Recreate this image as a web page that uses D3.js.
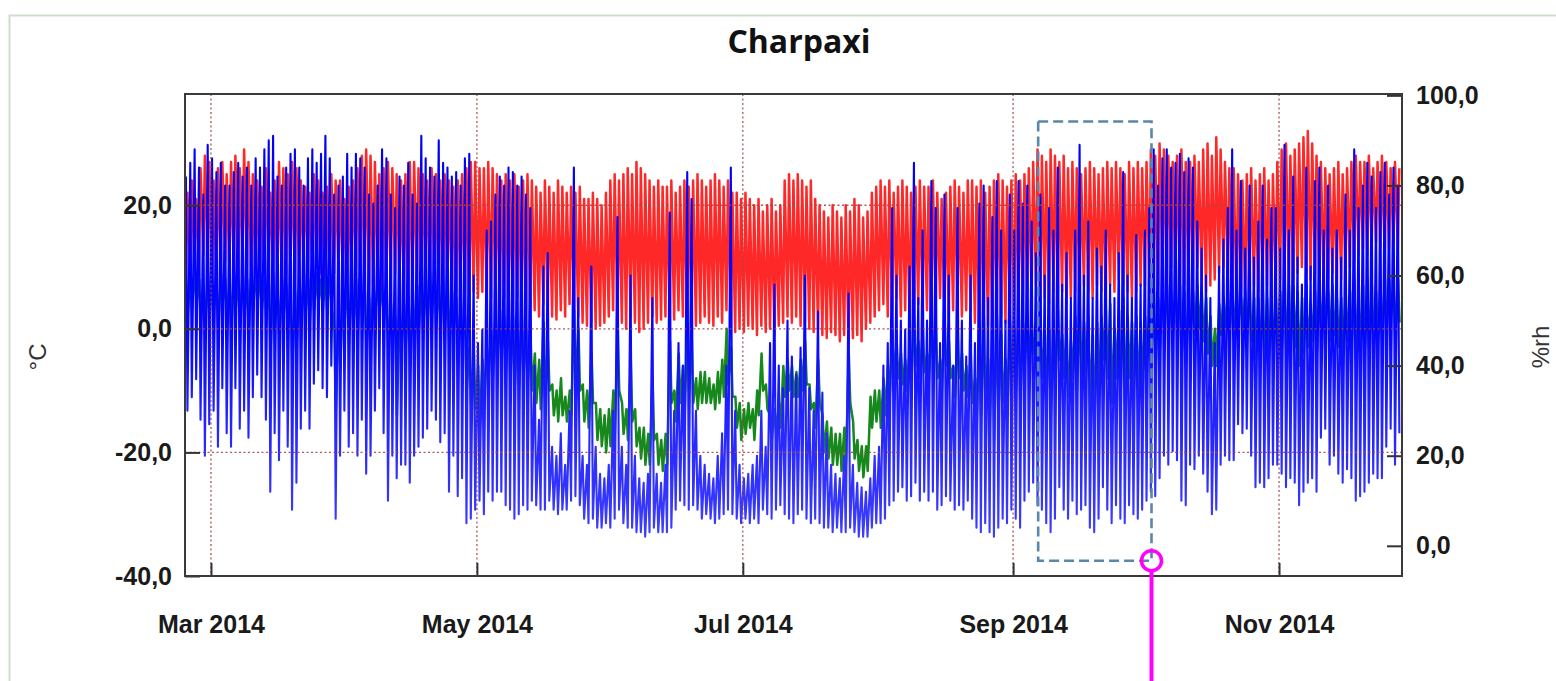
<!DOCTYPE html>
<html><head><meta charset="utf-8">
<script src="https://cdn.jsdelivr.net/npm/d3@7"></script>
<style>body{margin:0;background:#fff;} svg{display:block;}</style>
</head><body>
<svg id="chart" width="1556" height="681"></svg>
<script>
// ---- data: one value per day, first day = 23 Feb 2014 ----
const firstDay = Date.UTC(2014, 1, 23);
const xTicks = [Date.UTC(2014,2,1), Date.UTC(2014,4,1), Date.UTC(2014,6,1), Date.UTC(2014,8,1), Date.UTC(2014,10,1)];
const leftTicks = [-40, -20, 0, 20];
const rightTicks = [0, 20, 40, 60, 80, 100];
const title = "Charpaxi";

// relative humidity (%rh): daily maximum and minimum
const rhMax = [
 82,85,88,84,78,89,86,83,85,80, 80,83,85,82,84,80,86,84,88,90, 91,82,80,84,87,88,84,80,86,88,
 85,87,91,86,78,80,82,87,84,87, 86,84,78,76,80,88,86,78,75,82, 80,85,78,76,91,86,84,82,90,85,
 84,82,83,80,86,87,60,45,48,70, 72,78,82,80,84,83,80,82,78,75, 40,28,62,65,22,20,25,18,30,84,
 55,20,18,62,22,16,15,18,30,73, 22,18,60,20,15,14,16,55,16,14, 18,74,30,45,40,83,77,30,20,18,
 16,15,20,25,40,84,30,18,15,16, 18,20,30,22,45,58,40,35,50,42, 38,44,60,35,30,52,34,25,18,16,
 15,20,56,18,14,13,12,15,20,22, 40,45,75,60,50,48,62,85,55,70, 50,81,75,45,78,60,40,75,50,42,
 60,45,76,80,55,73,81,70,50,78, 70,81,76,80,72,65,78,60,75,70, 84,58,65,55,70,89,60,72,55,66,
 62,70,58,55,65,83,60,55,69,58, 70,75,88,80,86,88,84,85,87,83, 86,84,72,66,60,55,45,62,68,75,
 88,70,81,66,80,64,72,80,68,75, 75,66,89,70,82,64,58,84,62,81, 84,70,80,66,70,64,78,70,88,75,
 80,85,82,75,83,85,78,84,80];
const rhMin = [
 30,33,37,28,20,27,30,22,35,25, 22,35,26,30,24,33,38,33,28,12, 25,19,30,22,8,14,26,30,26,36,
 39,35,33,40,6,20,30,22,25,20, 28,16,20,30,35,25,10,20,15,18, 18,14,20,22,24,26,30,28,23,25,
 12,20,11,15,5,6,8,10,7,12, 10,12,12,9,8,6,7,9,8,10, 9,8,8,10,8,7,8,8,10,11,
 9,6,5,6,4,4,5,4,6,8, 5,4,4,3,3,2,3,4,3,3, 3,4,8,10,9,8,9,8,6,7,
 6,5,6,7,8,7,6,5,6,5, 6,5,8,7,6,8,9,7,6,5, 7,8,6,5,6,5,4,4,3,4,
 3,3,4,3,2,2,2,4,5,5, 6,9,10,12,13,10,11,14,10,12, 10,12,8,9,11,10,8,9,8,10,
 6,4,3,5,3,2,4,6,5,8, 6,4,10,12,14,9,8,5,3,6, 13,8,6,10,7,8,9,4,3,6,
 13,8,5,9,6,5,9,7,6,8, 10,12,11,15,20,18,21,19,10,9, 18,17,20,16,12,7,8,18,20,19,
 19,27,25,26,20,13,14,13,15,18, 18,16,13,15,14,9,12,14,15,12, 24,26,18,20,16,14,17,15,10,11,
 12,14,16,15,15,22,26,18,25];

// air temperature (°C): daily maximum and minimum
const tMax = [
 22,24,21,26,28,27,24,26,27,25, 27,28,26,29,27,25,24,23,26,22, 24,27,26,25,27,26,24,23,22,25,
 24,22,23,25,24,24,21,23,24,26, 28,29,28,27,25,26,27,26,25,24, 25,27,27,26,25,24,26,25,24,25,
 24,23,24,25,26,27,27,26,26,27, 26,25,24,25,24,25,23,24,25,24, 23,22,24,23,22,24,23,22,23,22,
 23,21,21,22,21,20,22,24,25,24, 25,26,25,27,26,25,24,23,24,23, 23,24,22,23,24,23,24,25,24,23,
 24,25,24,23,24,22,22,21,22,21, 20,21,19,20,21,19,20,24,25,24, 25,24,23,24,21,20,19,18,20,19,
 18,20,19,21,20,18,19,22,23,24, 23,24,22,23,24,23,22,23,24,23, 23,24,22,21,22,23,24,23,22,24,
 24,23,24,22,23,24,25,24,23,24, 25,24,25,26,27,29,28,27,29,28, 27,28,26,27,26,25,26,27,26,25,
 26,27,26,27,26,25,27,26,27,26, 27,29,28,30,29,28,27,28,29,27, 27,28,27,29,30,28,31,29,27,26,
 26,25,24,25,26,24,25,26,24,25, 27,29,30,28,29,30,31,32,30,28, 27,26,25,26,27,25,26,27,28,27,
 27,28,26,27,28,27,26,27,26];
const tMin = [
 8,9,10,11,12,10,9,8,10,11, 9,10,8,11,10,9,8,10,9,11, 10,9,8,9,10,8,9,10,11,10,
 10,9,8,9,9,10,8,7,9,10, 9,8,7,6,8,7,7,8,9,8, 6,5,6,8,9,8,9,8,7,8,
 8,7,6,5,6,5,6,5,6,5, 5,6,4,5,3,4,5,4,3,4, 3,2,4,3,2,1.5,3,2,4,3,
 2,1,0.5,1,0,0.5,1,2,3,2, 1,0,2,1,-0.5,0,1,2,1,1.5, 2,1,1.5,3,2,1,2,0.5,1,2,
 1,0.5,2,1,3,0,-0.5,0,-0.5,0.5, 0,-1,0.5,-0.5,0,-1,0.5,1,2,1, 2,0.5,1,0,-0.5,0,-1,-1.5,-0.5,-1,
 -2,-1,-2.4,-1.5,-1,-2,0,1,2,3, 4,2,3,5,2,3,1.6,2,4,3, 3,2,4,5,3,2,3,4,2,3,
 3,1,0,2,0.5,1,3,2,1,4, 3,4,5,6,5,7,6,5,4,6, 5,6,4,5,6,5.4,7,6,5,7,
 6,5,7,6,8,7,6,5,6,7, 7,8,6,7,9,8,10,9,8,7, 8,9,10,8,6,7,8,9,10,9,
 6,5,6,5,8,7,6,8,7,6, 7,8,9,7,8,9,10,9,8,9, 8,7,8,9,7,8,9,10,11,12,
 13,12,13,14,13,12,13,14,13];

// dew point (°C): daily maximum and minimum
const dpMax = [
 8,9,10,8,7,9,8,7,9,8, 8,9,8,9,8,9,10,9,8,7, 9,6,8,7,5,6,8,9,8,9,
 9,8,9,9,0,3,6,7,8,8, 9,6,5,7,8,7,6,4,2,3, 4,5,6,7,8,8,9,8,7,8,
 7,6,5,4,2,-3,-4,-6,-5,-3, 0,2,3,2,3,2,1,2,0,-1, -4,-5,1,-2,-9,-10,-8,-11,-10,3,
 0,-9,-10,-4,-12,-13,-14,-13,-10,0, -12,-13,-5,-13,-16,-16,-17,-8,-17,-18, -17,-2,-10,-4,-6,1,-2,-8,-7,-7,
 -8,-9,-7,-5,0,-3,-11,-12,-13,-12, -13,-10,-4,-9,-14,-13,-12,-6,-5,-6, -7,-5,-2,-9,-12,-5,-14,-15,-16,-17,
 -17,-16,-4,-15,-18,-19,-19,-11,-10,-10, -8,-6,0,-2,-4,-5,-3,2,-2,0, -4,2,0,-5,1,-2,-6,0,-4,-6,
 -4,-8,1,2,-5,0,2,-1,-5,1, 0,2,1,2,1,0,2,-1,0,1, 3,-1,0,-2,2,4,1,2,-1,1,
 2,3,4,0,3,5,2,1,2,1, 2,3,6,5,6,7,6,6,7,6, 6,6,7,6,5,2,0,4,5,6,
 7,6,5,6,6,5,5,6,5,5, 5,6,8,7,7,6,5,7,4,6, 7,6,6,7,5,5,6,6,8,7,
 7,8,7,6,7,8,8,7,8];
const dpMin = [
 2,3,4,1,0,2,3,0,4,1, 0,3,1,2,0,3,4,3,2,-4, 1,-1,2,0,-6,-3,1,2,1,3,
 4,3,3,4,-13,-6,1,-1,0,-1, 2,-3,-2,2,3,1,-3,-1,-14,-4, -3,-4,-2,-1,0,1,2,1,0,1,
 -2,0,-4,-2,-10,-12,-13,-16,-12,-8, -8,-6,-5,-7,-8,-10,-9,-8,-9,-10, -12,-13,-11,-10,-14,-15,-14,-15,-14,-9,
 -10,-15,-16,-12,-18,-19,-20,-19,-17,-10, -17,-18,-15,-19,-21,-22,-22,-18,-22,-23, -22,-12,-15,-12,-14,-10,-12,-13,-12,-12,
 -12,-13,-12,-11,-9,-11,-16,-18,-17,-16, -18,-14,-10,-13,-18,-17,-16,-11,-10,-11, -11,-10,-9,-13,-16,-12,-20,-21,-22,-22,
 -23,-22,-12,-21,-23,-24,-23,-16,-15,-16, -14,-12,-8,-8,-9,-10,-9,-6,-8,-7, -9,-5,-8,-10,-6,-8,-11,-8,-10,-11,
 -12,-16,-14,-12,-15,-18,-13,-12,-14,-10, -10,-12,-6,-5,-4,-7,-8,-11,-14,-10, -5,-8,-11,-8,-10,-8,-7,-12,-15,-11,
 -5,-8,-12,-8,-11,-12,-8,-10,-11,-9, -6,-5,-6,-3,0,-1,1,0,-5,-6, -1,-1,0,-2,-4,-6,-6,-1,0,-1,
 -1,1,0,0,-2,-5,-5,-5,-4,-3, -3,-3,-4,-3,-3,-6,-4,-3,-2,-4, 0,1,-2,-1,-3,-4,-2,-3,-5,-4,
 -4,-3,-2,-2,-2,0,2,-1,1];

// highlighted period (annotation box), in data units
const boxDates = [Date.UTC(2014,8,6,18), Date.UTC(2014,9,2,18)];
const boxRh = [94.2, -3.3];

// ---- chart ----
const svg = d3.select("#chart");
const W = 1556, H = 681;
const plot = {l: 185, r: 1402, t: 94, b: 576};

const x = d3.scaleUtc().domain([Date.UTC(2014,1,23,1), Date.UTC(2014,10,29,5)]).range([plot.l, plot.r]);
const yL = d3.scaleLinear().domain([-40, 38]).range([plot.b, plot.t]);
const yR = d3.scaleLinear().domain([-6.7, 100.3]).range([plot.b, plot.t]);

const DAY = 86400000;
function zig(a, b, fa, fb) {
  const pts = [];
  for (let i = 0; i < a.length; i++) {
    pts.push({t: new Date(firstDay + (i + fa) * DAY), v: a[i]});
    pts.push({t: new Date(firstDay + (i + fb) * DAY), v: b[i]});
  }
  return pts;
}
const tSeries = zig(tMin, tMax, 0.25, 0.6);
const dpSeries = zig(dpMax, dpMin, 0.3, 0.65);
const rhSeries = zig(rhMax, rhMin, 0.25, 0.6);

// outer frame
svg.append("rect").attr("x", 9.5).attr("y", 15.5).attr("width", 1600).attr("height", 720)
  .attr("fill", "none").attr("stroke", "#cfddcc").attr("stroke-width", 2);

// title
svg.append("text").attr("x", 799).attr("y", 53).attr("text-anchor", "middle")
  .attr("font-family", "'Open Sans', 'Noto Sans', sans-serif").attr("font-weight", 700)
  .attr("font-size", 32).attr("fill", "#111").text(title);

const defs = svg.append("defs");
defs.append("clipPath").attr("id", "clip").append("rect")
  .attr("x", plot.l).attr("y", plot.t).attr("width", plot.r - plot.l).attr("height", plot.b - plot.t);
const grad = defs.append("linearGradient").attr("id", "blueGrad")
  .attr("gradientUnits", "userSpaceOnUse").attr("x1", 0).attr("y1", plot.t).attr("x2", 0).attr("y2", plot.b);
[[0, "#0000f6"], [0.49, "#0505ff"], [0.68, "#2424ff"], [0.94, "#4040ff"], [1, "#4444ff"]]
  .forEach(([o, c]) => grad.append("stop").attr("offset", o).attr("stop-color", c));

const g = svg.append("g").attr("clip-path", "url(#clip)");
const lineL = d3.line().x(d => x(d.t)).y(d => yL(d.v));
const lineR = d3.line().x(d => x(d.t)).y(d => yR(d.v));

g.append("path").datum(tSeries).attr("d", lineL).attr("fill", "none")
  .attr("stroke", "#ff2828").attr("stroke-width", 2.5).attr("stroke-linejoin", "round");
g.append("path").datum(dpSeries).attr("d", lineL).attr("fill", "none")
  .attr("stroke", "#16881c").attr("stroke-width", 2.5).attr("stroke-linejoin", "round");
g.append("path").datum(rhSeries).attr("d", lineR).attr("fill", "none")
  .attr("stroke", "url(#blueGrad)").attr("stroke-width", 2.1).attr("stroke-linejoin", "round");

// gridlines (dotted, on top of data)
const grid = svg.append("g").attr("stroke", "#a04848").attr("stroke-width", 1.3)
  .attr("stroke-dasharray", "2,2.5").attr("opacity", 0.9);
grid.selectAll("line.v").data(xTicks).join("line")
  .attr("x1", d => x(d)).attr("x2", d => x(d)).attr("y1", plot.t).attr("y2", plot.b);
grid.selectAll("line.h").data([-20, 0, 20]).join("line")
  .attr("x1", plot.l).attr("x2", plot.r).attr("y1", d => yL(d)).attr("y2", d => yL(d));

// annotation box
svg.append("rect")
  .attr("x", x(boxDates[0])).attr("y", yR(boxRh[0]))
  .attr("width", x(boxDates[1]) - x(boxDates[0])).attr("height", yR(boxRh[1]) - yR(boxRh[0]))
  .attr("fill", "none").attr("stroke", "#5a87a6").attr("stroke-width", 2.6).attr("stroke-dasharray", "10,5");

// axes
const fmt = d => (d < 0 ? "-" : "") + Math.abs(d).toFixed(1).replace(".", ",");
const fontFam = "'Liberation Sans', Arial, sans-serif";
function styleAxis(sel) {
  sel.select(".domain").remove();
  sel.selectAll(".tick line").attr("stroke", "#333").attr("stroke-width", 2);
  sel.selectAll(".tick text").attr("font-family", fontFam).attr("font-weight", "bold")
    .attr("font-size", 25).attr("fill", "#1a1a1a");
}
svg.append("g").attr("transform", `translate(${plot.l},0)`)
  .call(d3.axisLeft(yL).tickValues(leftTicks).tickSize(-15).tickSizeOuter(0).tickPadding(13).tickFormat(fmt))
  .call(styleAxis);
svg.append("g").attr("transform", `translate(${plot.r},0)`)
  .call(d3.axisRight(yR).tickValues(rightTicks).tickSize(-15).tickSizeOuter(0).tickPadding(14).tickFormat(fmt))
  .call(styleAxis);
svg.append("g").attr("transform", `translate(0,${plot.b})`)
  .call(d3.axisBottom(x).tickValues(xTicks.map(d => new Date(d))).tickSize(-13).tickSizeOuter(0)
    .tickPadding(39).tickFormat(d3.utcFormat("%b %Y")))
  .call(styleAxis);

// plot frame
svg.append("rect").attr("x", plot.l).attr("y", plot.t).attr("width", plot.r - plot.l).attr("height", plot.b - plot.t)
  .attr("fill", "none").attr("stroke", "#3a3a3a").attr("stroke-width", 2);

// axis titles
svg.append("text").attr("transform", "translate(46,357) rotate(-90)").attr("text-anchor", "middle")
  .attr("font-family", fontFam).attr("font-size", 24).attr("fill", "#333").text("°C");
svg.append("text").attr("transform", "translate(1549,347) rotate(-90)").attr("text-anchor", "middle")
  .attr("font-family", fontFam).attr("font-size", 24).attr("fill", "#333").text("%rh");

// marker: circle at the box corner and a line down
const cx = x(boxDates[1]), cy = yR(boxRh[1]);
svg.append("line").attr("x1", cx).attr("x2", cx).attr("y1", cy + 10).attr("y2", H)
  .attr("stroke", "#ff00ff").attr("stroke-width", 4);
svg.append("circle").attr("cx", cx).attr("cy", cy).attr("r", 10)
  .attr("fill", "none").attr("stroke", "#ff00ff").attr("stroke-width", 3.5);
</script>
</body></html>
